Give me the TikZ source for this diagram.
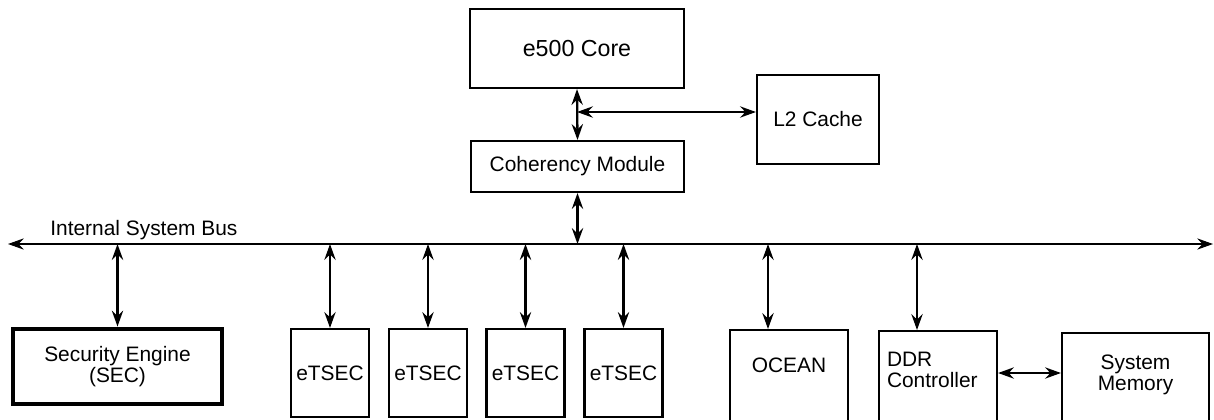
\documentclass[tikz,border=0pt]{standalone}
\usepackage{fontspec}
\setmainfont{Liberation Sans}
\usetikzlibrary{arrows.meta}

\begin{document}
\begin{tikzpicture}[
  x=0.2mm,y=-0.2mm,
  >={Stealth[length=9pt,width=6.4pt,inset=3pt]},
  box/.style={draw,line width=1.2pt,align=center,inner sep=0pt,
              font=\fontsize{11.9}{10}\selectfont},
  openbox/.style={box,anchor=north,text depth=30mm},
  arr/.style={<->,line width=1.3pt},
  bus/.style={<->,line width=0.6pt}
]
\useasboundingbox (0,0) rectangle (1214,419);
\clip (0,0) rectangle (1214,419);
\node[box,minimum width=42.8mm,minimum height=15.8mm,
      font=\fontsize{13.2}{15}\selectfont] (core) at (577,48.5) {e500 Core};
\node[box,minimum width=42.6mm,minimum height=10.2mm] (coh) at (577.5,166.5) {Coherency Module};
\node[box,minimum width=24.4mm,minimum height=17.8mm] (l2) at (818,119.5) {L2 Cache};
\node[box,line width=2.8pt,minimum width=41.8mm,minimum height=15mm] (sec) at (117.5,366.5)
  {Security Engine\\(SEC)};
\foreach \x/\n in {330/1,428/2,525.5/3,623.5/4}
  \node[box,minimum width=15.6mm,minimum height=17.6mm] (etsec\n) at (\x,373) {eTSEC};
\node[openbox,minimum width=23.6mm,inner ysep=5.6mm] (ocean) at (789,329) {OCEAN};
\node[openbox,align=left,text width=20.4mm,inner xsep=1.6mm,inner ysep=4.2mm] (ddr) at (938,330)
  {DDR\\[2pt]Controller};
\node[openbox,text width=25.4mm,inner xsep=2mm,inner ysep=4.4mm] (mem) at (1135.5,332)
  {System\\Memory};
\coordinate (busL) at (8,244);
\coordinate (busR) at (1213,244);
\draw[bus] (busL) -- (busR);
\node[anchor=base west,inner sep=0pt,font=\fontsize{11.9}{14}\selectfont] (buslabel) at (50,235)
  {Internal System Bus};
\coordinate (tap) at (577,112);
\coordinate (oceantap) at (768,244);
\coordinate (ddrtap) at (917,244);
\draw[arr] (core.south) -- (coh.north);
\draw[arr] (tap) -- (tap -| l2.west);
\draw[arr] (coh.south) -- (coh.south |- busL);
\draw[arr] (sec.north) -- (sec.north |- busL);
\foreach \n in {1,...,4}
  \draw[arr] (etsec\n.north) -- (etsec\n.north |- busL);
\draw[arr] (oceantap) -- (oceantap |- ocean.north);
\draw[arr] (ddrtap) -- (ddrtap |- ddr.north);
\draw[arr] (ddr.east |- 0,373) -- (mem.west |- 0,373);
\end{tikzpicture}
\end{document}
